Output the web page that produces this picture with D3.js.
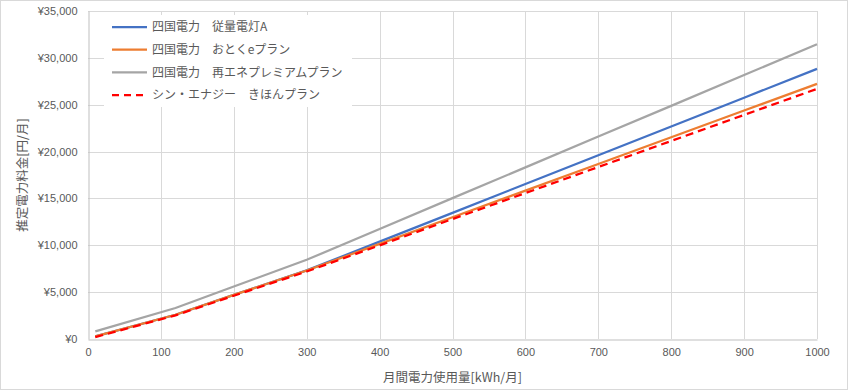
<!DOCTYPE html>
<html>
<head>
<meta charset="utf-8">
<script src="https://cdn.jsdelivr.net/npm/d3@7"></script>
<style>
  body { margin: 0; background: #fff; }
  svg { display: block; font-family: "Noto Sans CJK JP", "Noto Sans", sans-serif; }
</style>
</head>
<body>
<div id="chart"></div>
<script>
// usage points (kWh/month)
var usage = [10, 120, 200, 300, 400, 500, 600, 700, 800, 900, 1000];

// estimated charges (yen/month)
var juryoA   = [280, 2590, 4710, 7320, 10390, 13460, 16540, 19610, 22680, 25750, 28820];
var otokuE   = [280, 2590, 4710, 7310, 10150, 12990, 15830, 18670, 21530, 24380, 27220];
var saiene   = [810, 3310, 5600, 8450, 11740, 15030, 18310, 21600, 24880, 28170, 31450];
var shinKihon = [200, 2520, 4620, 7200, 9990, 12800, 15570, 18350, 21130, 23910, 26690];

var seriesNames = [
  '四国電力　従量電灯A',
  '四国電力　おとくeプラン',
  '四国電力　再エネプレミアムプラン',
  'シン・エナジー　きほんプラン'
];

var xTicks = [0, 100, 200, 300, 400, 500, 600, 700, 800, 900, 1000];
var yTicks = [0, 5000, 10000, 15000, 20000, 25000, 30000, 35000];

// SETTINGS
var W = 848, H = 390;
var margin = { left: 88, right: 31, top: 11, bottom: 51 };
var colors = ['#4472C4', '#ED7D31', '#A5A5A5', '#FF0000'];

var series = [juryoA, otokuE, saiene, shinKihon].map(function (vals, i) {
  return {
    name: seriesNames[i],
    color: colors[i],
    dash: i === 3 ? '8,5' : null,
    points: usage.map(function (u, j) { return { x: u, y: vals[j] }; })
  };
});

var svg = d3.select('#chart').append('svg')
  .attr('width', W)
  .attr('height', H);

// OUTER BORDER
svg.append('rect')
  .attr('x', 0.5).attr('y', 0.5)
  .attr('width', W - 1).attr('height', H - 1)
  .attr('fill', '#fff')
  .attr('stroke', '#d9d9d9');

var x = d3.scaleLinear().domain([0, 1000]).range([margin.left, W - margin.right]);
var y = d3.scaleLinear().domain([0, 35000]).range([H - margin.bottom, margin.top]);

// GRIDLINES
svg.append('g')
  .selectAll('line.v')
  .data(xTicks.slice(1))
  .join('line')
  .attr('x1', function (d) { return Math.round(x(d)) + 0.5; })
  .attr('x2', function (d) { return Math.round(x(d)) + 0.5; })
  .attr('y1', y(35000))
  .attr('y2', y(0))
  .attr('stroke', '#d9d9d9');

svg.append('g')
  .selectAll('line.h')
  .data(yTicks.slice(1))
  .join('line')
  .attr('x1', x(0))
  .attr('x2', x(1000))
  .attr('y1', function (d) { return Math.round(y(d)) + 0.5; })
  .attr('y2', function (d) { return Math.round(y(d)) + 0.5; })
  .attr('stroke', '#d9d9d9');

// AXES
var xAxis = d3.axisBottom(x).tickValues(xTicks).tickSize(0).tickPadding(9)
  .tickFormat(d3.format('d'));
var yAxis = d3.axisLeft(y).tickValues(yTicks).tickSize(0).tickPadding(11)
  .tickFormat(function (d) { return '¥' + d3.format(',')(d); });

var gx = svg.append('g')
  .attr('transform', 'translate(0,' + (Math.round(y(0)) + 0.5) + ')')
  .call(xAxis);
var gy = svg.append('g')
  .attr('transform', 'translate(' + (Math.round(x(0)) + 0.5) + ',0)')
  .call(yAxis);

[gx, gy].forEach(function (g) {
  g.select('.domain').attr('stroke', '#bfbfbf');
  g.selectAll('text')
    .attr('fill', '#595959')
    .style('font-size', '11px');
});

// AXIS TITLES
svg.append('text')
  .attr('x', (x(0) + x(1000)) / 2)
  .attr('y', 382)
  .attr('text-anchor', 'middle')
  .attr('fill', '#595959')
  .style('font-size', '12.5px')
  .text('月間電力使用量[kWh/月]');

svg.append('text')
  .attr('transform', 'translate(27,' + ((y(0) + y(35000)) / 2) + ') rotate(-90)')
  .attr('text-anchor', 'middle')
  .attr('fill', '#595959')
  .style('font-size', '12.5px')
  .text('推定電力料金[円/月]');

// LINES
var line = d3.line()
  .x(function (d) { return x(d.x); })
  .y(function (d) { return y(d.y); });

svg.append('g')
  .selectAll('path')
  .data(series)
  .join('path')
  .attr('fill', 'none')
  .attr('stroke', function (d) { return d.color; })
  .attr('stroke-width', 2.25)
  .attr('stroke-dasharray', function (d) { return d.dash; })
  .attr('d', function (d) { return line(d.points); });

// LEGEND
var legend = svg.append('g');
legend.append('rect')
  .attr('x', 104).attr('y', 15)
  .attr('width', 248).attr('height', 92)
  .attr('fill', '#fff');

var item = legend.selectAll('g')
  .data(series)
  .join('g')
  .attr('transform', function (d, i) { return 'translate(0,' + (27 + i * 22.7) + ')'; });

item.append('line')
  .attr('x1', 112).attr('x2', 147)
  .attr('stroke', function (d) { return d.color; })
  .attr('stroke-width', 2.25)
  .attr('stroke-dasharray', function (d) { return d.dash ? '7,5' : null; });

item.append('text')
  .attr('x', 152)
  .attr('dy', '0.35em')
  .attr('fill', '#595959')
  .style('font-size', '12px')
  .text(function (d) { return d.name; });
</script>
</body>
</html>
